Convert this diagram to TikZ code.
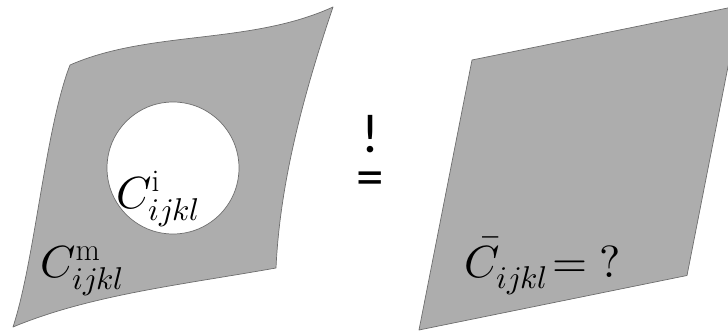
\documentclass[tikz,border=0pt]{standalone}
\usepackage{unicode-math}
\setmathfont{Latin Modern Math}
\newfontfamily\calib{Carlito}
\begin{document}
\begin{tikzpicture}[x=1pt,y=-1pt,
  sheet/.style={fill={rgb,255:red,173;green,173;blue,173},draw={rgb,255:red,110;green,110;blue,110},line width=0.7pt,line join=round},
  hole/.style={fill=white,draw={rgb,255:red,110;green,110;blue,110},line width=0.7pt},
  mlabel/.style={inner sep=0pt,font=\fontsize{45}{54}\selectfont},
  sign/.style={inner sep=0pt,align=center,font=\calib\fontsize{55}{43.5}\selectfont}]
\useasboundingbox (0,0) rectangle (728,331);
% left wavy sheet
\draw[sheet] (70,65) .. controls (150,30) and (250,45) .. (333,7)
  .. controls (305,90) and (280,180) .. (276,268)
  .. controls (180,285) and (90,295) .. (13,327)
  .. controls (35,260) and (45,130) .. (70,65) -- cycle;
\node[hole, circle, minimum size=132pt, inner sep=0pt] (inc) at (173,168) {};
\node[mlabel, anchor=base west] (ci) at (116,208) {$C^{\mathrm{i}}_{ijkl}$};
\node[mlabel, anchor=base west] (cm) at (40,277) {$C^{\mathrm{m}}_{ijkl}$};
% equality sign with exclamation mark
\node[sign, anchor=north] (eqsign) at (370,115) {!\\=};
% right parallelogram (clipped)
\begin{scope}
\clip (0,0) rectangle (728,331);
\draw[sheet] (472,60) -- (740,5.5) -- (687,275.5) -- (419,330) -- cycle;
\end{scope}
\node[mlabel, anchor=base west] (cbar) at (464,277) {$\bar{C}_{ijkl}\!=?$};
\end{tikzpicture}
\end{document}
